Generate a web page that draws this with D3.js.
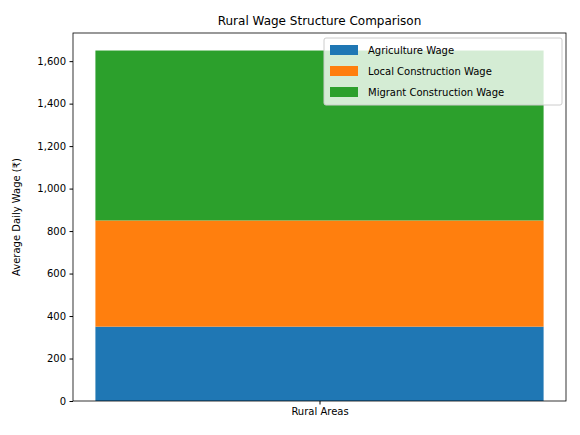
<!DOCTYPE html>
<html><head><meta charset="utf-8">
<script src="https://cdn.jsdelivr.net/npm/d3@7"></script>
<style>body{margin:0;background:#fff}text{font-family:"DejaVu Sans",sans-serif}</style>
</head><body><svg id="c" width="580" height="435"></svg>
<script>
const categories=["Rural Areas"];
const seriesNames=["Agriculture Wage","Local Construction Wage","Migrant Construction Wage"];
const agriculture=[350];
const localConstruction=[500];
const migrantConstruction=[800];
const yTicks=[0,200,400,600,800,1000,1200,1400,1600];
const colors=["#1f77b4","#ff7f0e","#2ca02c"];
const svg=d3.select("#c");
const L=73,R=566,T=33,B=401;
const x=d3.scaleLinear().domain([-0.44,0.44]).range([L,R]);
const y=d3.scaleLinear().domain([0,1732.5]).range([B,T]);
const series=[agriculture,localConstruction,migrantConstruction];
categories.forEach((c,i)=>{let base=0;series.forEach((s,k)=>{
 svg.append("rect").attr("x",x(i-0.4)).attr("width",x(i+0.4)-x(i-0.4))
 .attr("y",y(base+s[i])).attr("height",y(base)-y(base+s[i])).attr("fill",colors[k]);base+=s[i];});});
const ya=svg.append("g").attr("transform",`translate(${L},0)`).call(d3.axisLeft(y).tickValues(yTicks).tickSize(3.5).tickPadding(3.5));
const xa=svg.append("g").attr("transform",`translate(0,${B})`).call(d3.axisBottom(x).tickValues([0]).tickFormat(()=>categories[0]).tickSize(3.5).tickPadding(3.5));
[ya,xa].forEach(a=>{a.select(".domain").remove();a.selectAll("text").attr("font-size",10).attr("fill","#000");a.selectAll("line").attr("stroke","#000");});
svg.append("rect").attr("x",L).attr("y",T).attr("width",R-L).attr("height",B-T).attr("fill","none").attr("stroke","#000").attr("stroke-width",0.8);
svg.append("text").attr("x",(L+R)/2).attr("y",T-8).attr("text-anchor","middle").attr("font-size",12).text("Rural Wage Structure Comparison");
svg.append("text").attr("transform",`translate(20,${(T+B)/2}) rotate(-90)`).attr("text-anchor","middle").attr("font-size",10).text("Average Daily Wage (₹)");
const lg=svg.append("g");
lg.append("rect").attr("x",324).attr("y",38).attr("width",238).attr("height",67).attr("rx",2).attr("fill","rgba(255,255,255,0.8)").attr("stroke","#ccc");
seriesNames.forEach((n,k)=>{lg.append("rect").attr("x",330).attr("y",45+k*21).attr("width",28).attr("height",10).attr("fill",colors[k]);
 lg.append("text").attr("x",368).attr("y",54+k*21).attr("font-size",10).text(n);});
</script></body></html>
